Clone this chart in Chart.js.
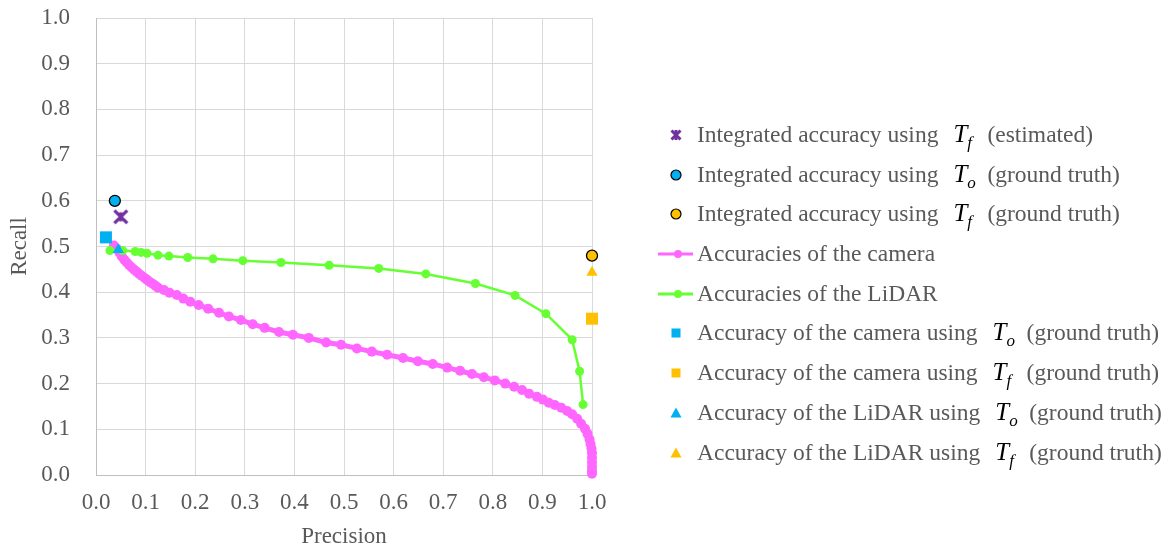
<!DOCTYPE html>
<html>
<head>
<meta charset="utf-8">
<title>Precision / Recall</title>
<script src="https://cdn.jsdelivr.net/npm/chart.js@4.4.1/dist/chart.umd.min.js"></script>
<style>
html, body { margin: 0; padding: 0; background: #fff; }
#wrap { position: relative; width: 1172px; height: 547px; }
#wrap canvas { position: absolute; left: 0; top: 0; }
#legend { position: absolute; left: 0; top: 0; width: 1172px; height: 547px;
  font-family: "Liberation Serif", "Times New Roman", serif; font-size: 23.5px; color: #595959; }
.row { position: absolute; left: 697px; height: 30px; line-height: 30px; white-space: nowrap; }
.mk { position: absolute; left: 656px; width: 40px; height: 20px; }
.T { display: inline-block; width: 34px; margin-left: 15px; font-style: italic; color: #000; font-size: 25px; }
.T sub { font-size: 17px; vertical-align: -6px; line-height: 0; }
</style>
</head>
<body>
<div id="wrap">
  <canvas id="prChart" width="1172" height="547"></canvas>
  <div id="legend"></div>
</div>
<script>
// axis ticks
var axisTicks = [0.0, 0.1, 0.2, 0.3, 0.4, 0.5, 0.6, 0.7, 0.8, 0.9, 1.0];

// accuracies of the camera (precision, recall)
var cameraPrecision = [0.036, 0.042, 0.047, 0.052, 0.057, 0.062, 0.067, 0.072, 0.077, 0.082, 0.087, 0.092, 0.098, 0.103, 0.109, 0.115, 0.120, 0.125, 0.137, 0.148, 0.163, 0.176, 0.190, 0.207, 0.226, 0.248, 0.268, 0.292, 0.316, 0.340, 0.369, 0.397, 0.429, 0.464, 0.494, 0.526, 0.556, 0.587, 0.619, 0.649, 0.679, 0.708, 0.734, 0.758, 0.782, 0.804, 0.825, 0.843, 0.859, 0.873, 0.889, 0.901, 0.913, 0.925, 0.938, 0.950, 0.960, 0.970, 0.978, 0.986, 0.991, 0.995, 0.997, 0.999, 1.000, 1.000, 1.000, 1.000, 1.000, 1.000];
var cameraRecall = [0.502, 0.495, 0.487, 0.478, 0.471, 0.465, 0.459, 0.454, 0.449, 0.445, 0.440, 0.436, 0.431, 0.427, 0.422, 0.418, 0.414, 0.410, 0.405, 0.399, 0.394, 0.386, 0.379, 0.372, 0.364, 0.355, 0.347, 0.339, 0.330, 0.322, 0.313, 0.307, 0.300, 0.290, 0.285, 0.277, 0.270, 0.263, 0.256, 0.249, 0.243, 0.235, 0.228, 0.221, 0.214, 0.207, 0.200, 0.193, 0.186, 0.178, 0.171, 0.165, 0.158, 0.153, 0.147, 0.140, 0.133, 0.123, 0.112, 0.101, 0.090, 0.078, 0.068, 0.058, 0.048, 0.038, 0.028, 0.018, 0.010, 0.003];

// accuracies of the LiDAR
var lidarPrecision = [0.028, 0.054, 0.079, 0.091, 0.103, 0.125, 0.147, 0.185, 0.236, 0.296, 0.373, 0.470, 0.570, 0.665, 0.765, 0.845, 0.907, 0.960, 0.975, 0.982];
var lidarRecall = [0.491, 0.491, 0.489, 0.487, 0.485, 0.481, 0.479, 0.476, 0.473, 0.469, 0.465, 0.459, 0.452, 0.440, 0.419, 0.393, 0.353, 0.296, 0.227, 0.154];

// single accuracies [precision, recall]
var integratedTfEstimated = [0.050, 0.565];
var integratedToTruth = [0.038, 0.600];
var integratedTfTruth = [1.000, 0.480];
var cameraToTruth = [0.020, 0.520];
var cameraTfTruth = [1.000, 0.342];
var lidarToTruth = [0.045, 0.493];
var lidarTfTruth = [1.000, 0.443];

var purple = '#7030A0', cyan = '#00B0F0', amber = '#FFC000', pink = '#FF66FF', green = '#66FF33';
var textGrey = '#595959';

function toPoints(xs, ys) {
    var pts = [];
    for (var i = 0; i < xs.length; i++) pts.push({ x: xs[i], y: ys[i] });
    return pts;
}

// asterisk marker (X with a vertical bar)
function asterisk(size, color, lw) {
    var c = document.createElement('canvas');
    c.width = size; c.height = size;
    var g = c.getContext('2d');
    var m = size / 2, r = size / 2 - lw / 2;
    g.strokeStyle = color; g.lineWidth = lw; g.lineCap = 'butt';
    g.beginPath();
    g.moveTo(m - r * 0.87, m - r * 0.87); g.lineTo(m + r * 0.87, m + r * 0.87);
    g.moveTo(m + r * 0.87, m - r * 0.87); g.lineTo(m - r * 0.87, m + r * 0.87);
    g.moveTo(m, m - r * 0.6); g.lineTo(m, m + r * 0.6);
    g.stroke();
    return c;
}

function single(pt, style, color, radius, border, order) {
    return {
        type: 'scatter',
        data: [{ x: pt[0], y: pt[1] }],
        pointStyle: style,
        pointRadius: radius,
        pointHoverRadius: radius,
        backgroundColor: color,
        borderColor: border ? '#000' : color,
        borderWidth: border ? 1.3 : 0,
        clip: false,
        order: order
    };
}

var ctx = document.getElementById('prChart').getContext('2d');
var chart = new Chart(ctx, {
    type: 'scatter',
    data: {
        datasets: [
            single(integratedTfEstimated, asterisk(18, purple, 3.2), purple, 9, false, 1),
            single(integratedToTruth, 'circle', cyan, 5.5, true, 2),
            single(integratedTfTruth, 'circle', amber, 5.5, true, 3),
            {
                type: 'line',
                data: toPoints(cameraPrecision, cameraRecall),
                borderColor: pink,
                backgroundColor: pink,
                borderWidth: 5,
                pointRadius: 5,
                pointBorderWidth: 0,
                tension: 0,
                fill: false,
                clip: false,
                order: 9
            },
            {
                type: 'line',
                data: toPoints(lidarPrecision, lidarRecall),
                borderColor: green,
                backgroundColor: green,
                borderWidth: 2.5,
                pointRadius: 4.5,
                pointBorderWidth: 0,
                tension: 0,
                fill: false,
                clip: false,
                order: 8
            },
            single(cameraToTruth, 'rect', cyan, 8.5, false, 4),
            single(cameraTfTruth, 'rect', amber, 8.5, false, 5),
            single(lidarToTruth, 'triangle', cyan, 6.5, false, 6),
            single(lidarTfTruth, 'triangle', amber, 6.5, false, 7)
        ]
    },
    options: {
        responsive: false,
        animation: false,
        events: [],
        layout: { padding: { left: 0, top: 18, right: 580, bottom: 0 } },
        plugins: { legend: { display: false }, tooltip: { enabled: false } },
        scales: {
            x: {
                type: 'linear',
                min: 0, max: 1,
                afterBuildTicks: function (scale) { scale.ticks = axisTicks.map(function (v) { return { value: v }; }); },
                afterFit: function (scale) { scale.height = 72; scale.paddingLeft = 0; scale.paddingRight = 0; },
                grid: { color: '#D9D9D9', lineWidth: 1, drawTicks: false },
                border: { color: '#BFBFBF', width: 1 },
                ticks: {
                    padding: 14,
                    color: textGrey,
                    font: { family: 'Liberation Serif', size: 23 },
                    callback: function (v) { return v.toFixed(1); }
                },
                title: {
                    display: true,
                    text: 'Precision',
                    color: textGrey,
                    font: { family: 'Liberation Serif', size: 23, lineHeight: 1 },
                    padding: { top: 0, bottom: -1 }
                }
            },
            y: {
                type: 'linear',
                min: 0, max: 1,
                afterBuildTicks: function (scale) { scale.ticks = axisTicks.map(function (v) { return { value: v }; }); },
                afterFit: function (scale) { scale.width = 96; scale.paddingTop = 0; scale.paddingBottom = 0; },
                grid: { color: '#D9D9D9', lineWidth: 1, drawTicks: false },
                border: { color: '#BFBFBF', width: 1 },
                ticks: {
                    padding: 26,
                    color: textGrey,
                    font: { family: 'Liberation Serif', size: 23 },
                    callback: function (v) { return v.toFixed(1); }
                },
                title: {
                    display: true,
                    text: 'Recall',
                    color: textGrey,
                    font: { family: 'Liberation Serif', size: 23, lineHeight: 1 },
                    padding: { top: 8, bottom: 0 }
                }
            }
        }
    }
});

// legend (html, so the math symbols can be set in italic with subscripts)
var legendRows = [
    { y: 134, mark: 'star', color: purple, pre: 'Integrated accuracy using', sub: 'f', post: '(estimated)' },
    { y: 174, mark: 'circle', color: cyan, pre: 'Integrated accuracy using', sub: 'o', post: '(ground truth)' },
    { y: 213, mark: 'circle', color: amber, pre: 'Integrated accuracy using', sub: 'f', post: '(ground truth)' },
    { y: 253, mark: 'line', color: pink, pre: 'Accuracies of the camera' },
    { y: 293, mark: 'line', color: green, pre: 'Accuracies of the LiDAR' },
    { y: 332, mark: 'square', color: cyan, pre: 'Accuracy of the camera using', sub: 'o', post: '(ground truth)' },
    { y: 372, mark: 'square', color: amber, pre: 'Accuracy of the camera using', sub: 'f', post: '(ground truth)' },
    { y: 412, mark: 'triangle', color: cyan, pre: 'Accuracy of the LiDAR using', sub: 'o', post: '(ground truth)' },
    { y: 452, mark: 'triangle', color: amber, pre: 'Accuracy of the LiDAR using', sub: 'f', post: '(ground truth)' }
];

function markerSvg(kind, color) {
    var s = '<svg width="40" height="20" xmlns="http://www.w3.org/2000/svg">';
    if (kind === 'star') {
        s += '<g stroke="' + color + '" stroke-width="3"><line x1="15.5" y1="5.5" x2="24.5" y2="14.5"/><line x1="24.5" y1="5.5" x2="15.5" y2="14.5"/><line x1="20" y1="5" x2="20" y2="15"/></g>';
    } else if (kind === 'circle') {
        s += '<circle cx="20" cy="10" r="5" fill="' + color + '" stroke="#000" stroke-width="1.2"/>';
    } else if (kind === 'line') {
        s += '<line x1="2" y1="10" x2="37" y2="10" stroke="' + color + '" stroke-width="3"/><circle cx="22" cy="10" r="4" fill="' + color + '"/>';
    } else if (kind === 'square') {
        s += '<rect x="15.5" y="5.5" width="9" height="9" fill="' + color + '"/>';
    } else if (kind === 'triangle') {
        s += '<polygon points="20,4.5 25.5,14.5 14.5,14.5" fill="' + color + '"/>';
    }
    return s + '</svg>';
}

var legendEl = document.getElementById('legend');
legendRows.forEach(function (r) {
    var mk = document.createElement('div');
    mk.className = 'mk';
    mk.style.top = (r.y - 10) + 'px';
    mk.innerHTML = markerSvg(r.mark, r.color);
    legendEl.appendChild(mk);

    var row = document.createElement('div');
    row.className = 'row';
    row.style.top = (r.y - 15) + 'px';
    var html = '<span>' + r.pre + '</span>';
    if (r.sub) html += '<span class="T">T<sub>' + r.sub + '</sub></span><span>' + r.post + '</span>';
    row.innerHTML = html;
    legendEl.appendChild(row);
});
</script>
</body>
</html>
